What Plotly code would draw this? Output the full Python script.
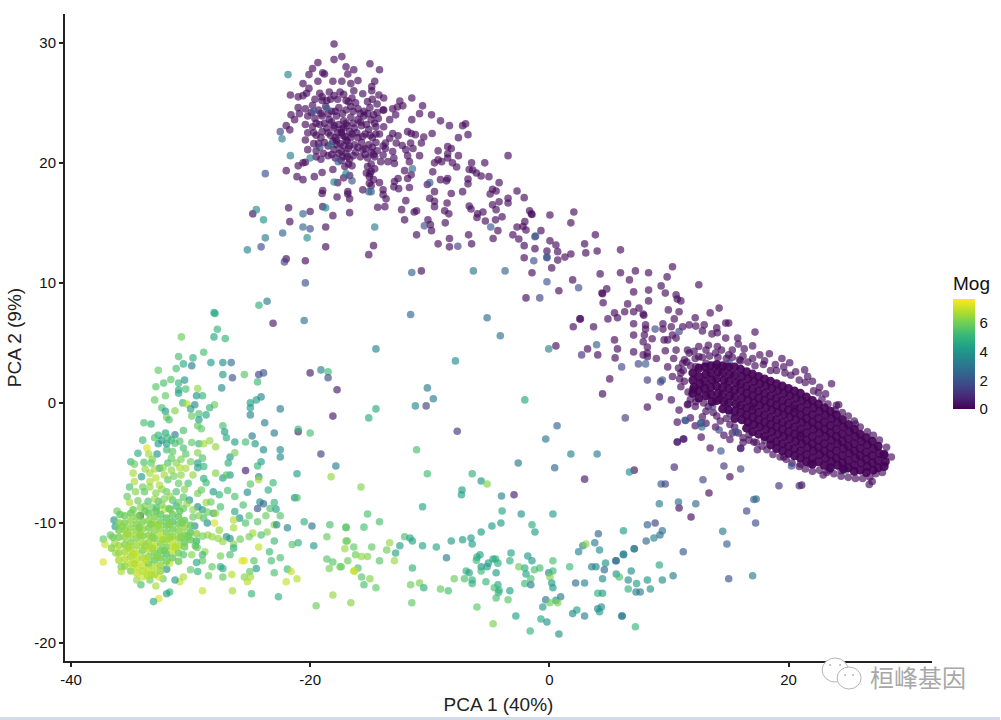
import plotly.graph_objects as go

# --- chart values: (PCA 1, PCA 2) and Mog ---
upper_lobe = [
(-18,29.9),(-18,28.6),(-17.35,28.85),(-19.35,28.35),(-19.8,27.85),(-20.1,27.35),(-18.95,27.5),(-18.8,27.4),(-17,28),(-16.35,27.75),(-16.85,27.4),(-15,28.25),(-14.2,27.75),
(-20.6,26.6),(-19.35,26.8),(-20.1,26.2),(-16,26.85),(-14.6,26.8),(-18.1,26.8),(-17.35,26.8),(-16.6,26.6),(-14.85,26.35),(-14.85,26),(-16.35,26),(-15.6,25.75),(-14.25,25.65),(-13.85,25.4),(-21.65,25.65),(-21,25.5),(-20.3,25.8),(-19.2,25.8),
(-20.6,25.6),(-19,25.5),(-18.4,25.9),(-18,25.6),(-17.5,25.9),(-17.7,25.3),(-18.6,25.2),(-17,25.2),(-16.5,25.4),(-16.2,25),(-15.2,25.1),(-14.8,25.3),(-14.4,24.9),
(-21,24.6),(-20.4,24.5),(-19.8,24.8),(-19.3,24.4),(-18.7,24.7),(-18.2,24.3),(-17.6,24.6),(-17,24.4),(-16.6,24.7),(-16,24.5),(-15.5,24.3),(-15,24.6),(-14.4,24.2),(-13.9,24.4),
(-21.6,24),(-20.9,24.1),(-20.2,23.9),(-19.6,23.7),(-19,23.9),(-18.4,23.6),(-17.8,23.9),(-17.2,23.5),(-16.6,23.8),(-16,23.6),(-15.5,23.9),(-14.9,23.6),(-14.3,23.7),
(-21.3,23.6),(-20.4,23.2),(-19.8,23),(-19.2,23.2),(-18.6,22.9),(-18,23.1),(-17.4,22.8),(-16.9,23.1),(-16.3,22.9),(-15.7,23.1),(-15.1,22.8),(-14.5,23),
(-20.2,22.5),(-19.5,22.3),(-19,22.6),(-18.3,22.3),(-17.7,22.5),(-17.1,22.2),(-16.5,22.4),(-16,22.1),(-15.4,22.4),(-14.8,22.1),(-14.2,22.4),
(-20.4,21.9),(-19.7,21.6),(-18.8,21.7),(-18.1,21.8),(-17.5,21.6),(-16.9,21.8),(-16.3,21.5),(-15.7,21.7),(-15.1,21.5),(-14.5,21.7),(-13.9,21.4),
(-20.2,21.1),(-19.5,21),(-18,21.1),(-17.4,21),(-16.8,21.2),(-16.2,20.9),(-15.6,21.1),(-14.9,20.9),(-14.4,21),
(-19.5,20.5),(-19.1,20.3),(-18.5,20.6),(-17.9,20.4),(-17.3,20.5),(-16.7,20.3),(-15.8,20.5),(-15.2,20.4),(-14.6,20.5),
(-13.35,23.6),(-13.1,24.5),(-12.7,24.65),(-12.85,24),(-13.85,24.4),(-13.85,23),(-11.5,25.4),(-12.5,25.15),(-10.6,24.75),(-12.25,24.75),(-10.85,24.1),(-9.85,24),(-11.5,23.6),(-9.1,23.5),(-8.35,23.1),(-7.25,23.1),(-7,23.25),(-6.8,22.35),(-7.6,22.1),(-3.45,20.6),(-5.4,20),(-6.5,20),
(-11.85,22.6),(-11.55,22.45),(-11.2,22.35),(-10.5,22.15),(-9.8,22.45),(-13.1,22.45),(-12.65,22.25),(-13.35,22.05),(-12.8,21.65),(-11.6,21.65),(-12.3,21.45),(-10.7,21.65),(-11.4,21.2),(-12,21.1),(-11.85,20.6),(-10.85,20.6),(-9.3,21),(-8.5,21.35),(-8.2,21.2),(-7.6,20.6),(-8.5,20.75),(-8.5,20.4),(-9.3,20.25),(-9,20.1),(-9.6,20),(-8.1,20),(-7.75,19.65),
(-13.1,20.95),(-13,20.4),(-13.7,21.65),(-13.7,21.2),(-13.9,20.65),(-12.95,19.95),(-14.1,20.1),(-13.5,20.1),(-11.7,20.1),(-12.1,19.35),(-11.55,19),(-11.85,18.7),(-12.65,18.7),(-12.95,18.45),(-13,18),(-12.6,17.85),(-11.7,17.95),
(-9.75,19.25),(-10.2,18.2),(-9.1,18.6),(-8.5,18.7),(-8.6,18.5),(-6.8,18.65),(-6.8,18.25),(-6.7,19.45),(-6.4,19.4),(-6.1,19.15),(-5.7,18.9),(-5.05,18.85),(-4.2,18.35),
(-4.75,17.8),(-4.45,17.65),(-4.95,17.4),(-8.2,17.45),(-7.25,17.6),(-9.6,17.6),(-10,17.05),(-9.6,16.8),(-9.6,16.35),(-8.55,16.65),(-8.75,16),(-8.4,15.75),(-8.7,15),
(-6.7,16.4),(-6.55,16.15),(-6,15.75),(-6.05,15.45),(-5.55,15.9),(-5.35,15.15),(-4.75,16.5),(-4.45,16.1),(-4.2,16.75),(-3.45,17.05),(-3.45,16.65),(-2.7,17.65),(-2.1,17.1),(-1.65,16),(-1.45,15.7),
(-4.5,15.25),(-3.95,15.5),(-4.3,14.35),(-4.7,13.7),(-3.05,14),(-2.55,13.65),(-2.7,14.65),(-2.2,14.7),(-1.95,14.4),(-2.1,13.1),(-1.2,12.85),(-2.1,12.1),
(-12,16.85),(-14.35,16.3),(-13.75,16.35),(-13.65,17),(-13.9,17.35),(-13.9,17.75),(-14.2,18.35),(-15.6,17.75),(-15.05,18.3),(-15.05,18.85),(-15.3,19.15),(-14.9,19.3),(-15.2,19.7),(-14.9,19.9),
(-12.35,16.1),(-11.3,15.9),(-11.1,16),(-12.1,15.25),(-10.15,15.25),(-9.95,14.85),(-9.85,14.35),(-11.1,14),(-9.3,13.25),(-8.35,13.7),(-8.35,13),(-6.5,13.25),(-6.75,14),
(-16.5,19.75),(-17.1,19.7),(-17.2,18.75),(-16.7,18.95),(-16.85,17.6),(-16.85,17.4),(-16.7,17),(-17.75,17.15),(-18.95,17.7),(-19,17.45),(-19.65,18.85),(-19,19.2),(-18.1,19.45),(-20.6,18.6),(-21.1,18.85),(-22,19.35),(-21,19.75),(-20.6,20),(-20.4,20.05),(-17.7,18.35),
(-22,23.1),(-21.7,22.75),(-21.8,16.25),(-20,15.95),(-18.95,16.35),(-18.1,15.6),(-16.7,15.85),(-24.8,15.75),(-21.7,15.1),(-18.7,14.65),(-18.7,13),(-14.7,13.1),(-15.1,12.35),(-22,12),(-20.4,11.85),(-10.7,11),
(2.6,7),(2,6.35),(3.7,6.35),(0.55,4.75),(3.2,4.5),(4.05,4),
(-2.05,15.1),(-1.5,15.75),(0.05,15.65),(2.05,15.9),(1.8,15),(-0.7,14.35),
(0.05,13.5),(0.55,13.15),(0.7,12.6),(-0.2,12.65),(0.7,11.9),(1.3,12.15),(1.8,12.4),(0.2,11.25),(3.85,14),(2.95,13.25),(3.05,12.5),(4,12.65),(5.95,12.75),(4.25,10.75),(5.95,10.85),(7.2,11),(8.3,10.85),(10.3,11.35),(9.85,10.5),(6.7,10.25),
(-1.45,10.85),(1.95,10.25),(0.8,9.35),(-1.95,8.75),
(12.5,9.85),(9.35,9.75),(9.7,9.15),(8.3,9.4),(7.05,9.25),(4.8,9.5),(4.4,9.15),(4.45,9.1),(4.5,8.35),(10.6,9),(10.7,8.65),(11,8.5),(8.3,8.5),(6.55,8.25),(9.95,7.75),(10.85,7.6),(14.2,7.9),(13.45,7.5),(12.2,7.1),(10.45,7),
(5.45,7.5),(5.7,7.1),(4.9,7),(6.3,7.6),(7.05,7.6),(7.5,7.9),(7.85,7.4),(7.9,7.3),(2.55,7),(7.05,6.6),(8.05,6.5),(8.05,6.15),(9.5,6.6),(9.5,6.15),(10.2,6.35),
(7.05,5.65),(7.95,5.65),(8.6,5.35),(7.85,5.1),(8.2,4.65),(9.6,5.25),(9.9,5.25),(5.45,5.25),(5.7,4.5),(5.5,3.75),(7.05,4.25),(7.85,4),(8.2,4.15),(8.2,3.85),(8.95,3.7),(9.7,4.35),(10.6,4.4),(5.05,2),(4.45,0.75),(9.2,0.5),(10.2,0.25),
(11.15,6.35),(11.7,6.5),(12.25,6.4),(12.95,6.5),(12.8,6),(13.6,5.75),(14,6.25),(14.05,5.85),(14.75,6.65),(15,6.65),(14.75,5.4),(15.75,5.4),(10.3,5.65),(10.6,5.4),(11.55,4.4),(11.7,4.15),(12.5,4.7),(13.1,4.4),(14.05,4.7),(13.9,4.15),(15.3,4.4),(12.5,3.85),(11.15,3.3),(9.9,3),(10.3,2.2),(11,2.5),(11,1.35),(12,1.1),(12.25,3),(13.1,3.3),(13.9,3),(15.9,3.6),
(17.2,5.9),(17,4.75),(15.8,4.9),(16.3,4.5),(17.6,4),(18.4,4.1),(19.45,3.7),(20.1,3.35),(21.35,2.75),(22,1.8),(23.6,1.6),(22.5,0.85),(23.1,0.75),(24.2,-0.15),(24,-0.2),(25.6,-1.75),(28.6,-4.5),(28,-4.35),(27.85,-5.8),(27,-6.55),(26.75,-6.8),(22.9,-6),(23.4,-5.6),(24.4,-5.65),(21.1,-6.85),(21.85,-5.1),(21,-5.1),(19.6,-4.5),(18,-3.1),(17.1,-3.25),(16,-3.8),(15.1,-3.05),(16.7,-2.65),
(13.45,-3.75),(12.7,-2.85),(11.2,-3),(10.7,-3.25),(10.7,-1.6),(11.8,-1.25),(12.8,-1.15),(13.1,-0.7),(11.6,-0.1),(12.25,0.1),(10.85,-0.6),(11.55,-0.15),(8.2,-0.35),(7.1,-5.6),(15.1,-6.15),(13.35,-7.5),(10.85,-8.75),(11.85,-9.5),
]

# second pass over the dark heart of the upper lobe
lobe_heart = [
(-19.6,25.3),(-19,25.2),(-18.3,25.3),(-17.2,25.7),(-16.8,25.1),(-19.9,24.2),(-19.1,24.1),(-18.5,24.1),(-17.9,24.3),(-17.3,24.1),(-16.4,24.3),(-15.8,24.1),(-15.2,24.1),(-14.7,24),
(-19.5,23.3),(-18.8,23.3),(-18.2,23.4),(-17.6,23.2),(-17,23.3),(-16.4,23.3),(-15.8,23.4),(-15.3,23.2),(-14.6,23.3),(-19.7,22.5),(-19.1,22.1),(-18.5,22.5),(-17.9,22.1),(-17.3,22.3),(-16.7,22.6),(-16.1,22.5),(-15.6,22.2),(-15,22.3),(-14.5,22.4),
(-19.3,21.6),(-18.5,21.4),(-17.8,21.5),(-17.2,21.4),(-16.7,21.4),(-16,21.3),(-15.4,21.2),(-14.8,21.3),(-18.9,20.8),(-18.2,20.7),(-17.6,20.8),(-17,20.8),(-16.4,20.6),(-15.4,20.7),(-14.7,20.7),
(-18,22.9),(-17.4,22.5),(-17,21.9),(-17.2,22.9),(-16.6,22.1),(-17.8,21.9),(-16.9,20.5),(-17.4,20.2),(-16.8,19.9),(-14.6,19.5),(-15,19.1),(-14.7,18.6),(-14.9,18.1),
]

# dense dark ridge on the right
ridge = [
(12,2.5),(12,1.9),(12.1,1.3),(12,0.8),(12.5,2.9),(12.5,2.2),(12.6,1.6),(12.5,1),(12.5,0.4),
(13,3),(13.1,2.4),(13,1.8),(13,1.2),(13.1,0.6),(13.5,3.1),(13.5,2.5),(13.6,1.9),(13.5,1.3),(13.5,0.7),(13.6,0.1),
(14,3.2),(14.1,2.6),(14,2),(14,1.4),(14.1,0.8),(14,0.2),(14.5,3.1),(14.5,2.5),(14.6,1.9),(14.5,1.3),(14.5,0.7),(14.6,0.1),(14.5,-0.5),
(15,3),(15.1,2.4),(15,1.8),(15,1.2),(15.1,0.6),(15,0),(15,-0.6),(15.5,3),(15.5,2.3),(15.6,1.7),(15.5,1.1),(15.5,0.5),(15.6,-0.1),(15.5,-0.7),(15.5,-1.3),
(16,2.8),(16.1,2.2),(16,1.6),(16,1),(16.1,0.4),(16,-0.2),(16,-0.8),(16.1,-1.4),(16.5,2.6),(16.6,2),(16.5,1.4),(16.5,0.8),(16.6,0.2),(16.5,-0.4),(16.5,-1),(16.6,-1.6),(16.5,-2.1),
(17,2.4),(17.1,1.8),(17,1.2),(17,0.6),(17.1,0),(17,-0.6),(17,-1.2),(17.1,-1.8),(17,-2.4),(17.5,2.2),(17.6,1.6),(17.5,1),(17.5,0.4),(17.6,-0.2),(17.5,-0.8),(17.5,-1.4),(17.6,-2),(17.5,-2.6),
(18,2),(18.1,1.4),(18,0.8),(18,0.2),(18.1,-0.4),(18,-1),(18,-1.6),(18.1,-2.2),(18,-2.8),(18.5,1.8),(18.6,1.2),(18.5,0.6),(18.5,0),(18.6,-0.6),(18.5,-1.2),(18.5,-1.8),(18.6,-2.4),(18.5,-3),(18.5,-3.5),
(19,1.6),(19.1,1),(19,0.4),(19,-0.2),(19.1,-0.8),(19,-1.4),(19,-2),(19.1,-2.6),(19,-3.2),(19,-3.8),(19.5,1.4),(19.6,0.8),(19.5,0.2),(19.5,-0.4),(19.6,-1),(19.5,-1.6),(19.5,-2.2),(19.6,-2.8),(19.5,-3.4),(19.5,-4),
(20,1.2),(20.1,0.6),(20,0),(20,-0.6),(20.1,-1.2),(20,-1.8),(20,-2.4),(20.1,-3),(20,-3.6),(20,-4.2),(20.5,1),(20.6,0.4),(20.5,-0.2),(20.5,-0.8),(20.6,-1.4),(20.5,-2),(20.5,-2.6),(20.6,-3.2),(20.5,-3.8),(20.5,-4.4),
(21,0.8),(21.1,0.2),(21,-0.4),(21,-1),(21.1,-1.6),(21,-2.2),(21,-2.8),(21.1,-3.4),(21,-4),(21,-4.6),(21.5,0.5),(21.6,-0.1),(21.5,-0.7),(21.5,-1.3),(21.6,-1.9),(21.5,-2.5),(21.5,-3.1),(21.6,-3.7),(21.5,-4.3),(21.5,-4.9),
(22,0.2),(22.1,-0.4),(22,-1),(22,-1.6),(22.1,-2.2),(22,-2.8),(22,-3.4),(22.1,-4),(22,-4.6),(22,-5.1),(22.5,-0.1),(22.6,-0.7),(22.5,-1.3),(22.5,-1.9),(22.6,-2.5),(22.5,-3.1),(22.5,-3.7),(22.6,-4.3),(22.5,-4.9),
(23,-0.4),(23.1,-1),(23,-1.6),(23,-2.2),(23.1,-2.8),(23,-3.4),(23,-4),(23.1,-4.6),(23,-5.2),(23.5,-0.7),(23.6,-1.3),(23.5,-1.9),(23.5,-2.5),(23.6,-3.1),(23.5,-3.7),(23.5,-4.3),(23.6,-4.9),(23.5,-5.4),
(24,-1),(24.1,-1.6),(24,-2.2),(24,-2.8),(24.1,-3.4),(24,-4),(24,-4.6),(24.1,-5.2),(24.5,-1.4),(24.6,-2),(24.5,-2.6),(24.5,-3.2),(24.6,-3.8),(24.5,-4.4),(24.5,-5),(24.6,-5.5),
(25,-1.8),(25.1,-2.4),(25,-3),(25,-3.6),(25.1,-4.2),(25,-4.8),(25,-5.4),(25.5,-2.2),(25.6,-2.8),(25.5,-3.4),(25.5,-4),(25.6,-4.6),(25.5,-5.2),(25.5,-5.7),
(26,-2.6),(26.1,-3.2),(26,-3.8),(26,-4.4),(26.1,-5),(26,-5.6),(26.5,-2.9),(26.6,-3.5),(26.5,-4.1),(26.5,-4.7),(26.6,-5.3),(26.5,-5.8),
(27,-3.2),(27.1,-3.8),(27,-4.4),(27,-5),(27.1,-5.6),(27.5,-3.6),(27.6,-4.2),(27.5,-4.8),(27.5,-5.4),(28,-4.3),(28.1,-4.9),(28,-5.3),
]

# looser points that blur the edge of the ridge
ridge_fringe = [
(11.3,3.6),(11.8,3.1),(12.2,3.7),(12.8,3.8),(13.4,3.9),(14.1,3.8),(14.8,3.7),(15.3,3.8),(16,3.5),(16.6,3.4),(17.2,3.1),(17.9,3.2),(18.5,2.7),(19,2.7),(19.7,2.5),(20.2,2.3),(20.9,1.9),(21.4,1.7),(22.1,1),(22.8,0.3),(23.3,-0.1),(23.9,-0.6),(24.5,-0.8),(25,-1.1),(25.5,-1.5),(26,-2),(26.6,-2.4),(27.1,-2.7),(27.6,-3.1),(28.2,-3.7),
(11.2,2.7),(11.3,1.8),(11.6,0.9),(11.8,0.3),(12.2,-0.3),(12.9,0),(13.3,-0.3),(13.7,-0.8),(14,-1.1),(14.3,-1.5),(14.8,-1.3),(15.1,-1.8),(15.5,-2),(15.8,-2.5),(16.2,-2.9),(16.7,-3.1),(17.3,-3.3),(17.8,-3.6),(18.2,-3.9),(18.7,-4.3),(19.3,-4.5),(19.8,-4.7),(20.3,-5),(20.9,-5.3),(21.4,-5.5),(22,-5.7),(22.6,-5.6),(23.2,-5.8),(23.8,-5.9),(24.4,-6.1),(25,-6.2),(25.6,-6.3),(26.2,-6.3),(26.8,-6.2),(27.3,-5.9),
(10.4,3.7),(10.8,2.9),(11.5,3.4),(10.9,2),(12.1,4.3),(13.3,4.8),(14.4,4.4),(15,4),(16.2,3.9),(17,3.7),(18,3.5),(18.9,3.2),(19.6,3),(20.6,2.6),(21.6,2.2),(22.6,1.3),(13.9,-2),(14.6,-2.7),(15.3,-2.5),(13.1,-1.7),(12.2,-1.9),(16.2,-3.3),(17.4,-3.9),
]

mixed = [
(-21.85,27.35,3.4),(-22.5,22.6,1.5),(-22.35,22,3.2),(-21.65,20.6,3.2),(-20,20.4,3.2),(-17.65,20.1,2),(-23.75,19.1,1.8),(-11.45,19.5,2.7),(-10,18.35,2),(-14.9,17.6,2),(-15.1,17.6,2.5),(-17,19.1,3.2),(-16.5,18.5,2),(-18,18.4,3.2),
(-20.6,15.75,2.4),(-18.7,16.25,3.7),(-24.5,16.1,3.7),(-23.9,15.25,4),(-20.6,14.65,2.6),(-20,14.5,1.8),(-14.6,14.65,3.2),(-22.3,14.15,2.4),(-23.75,13.75,3.2),(-20.25,13.75,3.8),(-25.25,12.75,3.4),(-24.1,13,1.8),(-22.15,11.75,1.5),
(-10.45,14.75,1.8),(-7.65,13.05,1.5),(-4.9,14.65,2),(-1.2,13.85,1.9),(-1.3,11.85,1.9),(-19.7,24.3,2),(-18.6,24.5,2.2),(-18.3,21.5,2.8),(-19.2,21.3,1.4),
(-20.4,10,1.9),(-11.5,10.86,2.4),(-6.35,11,3),(-3.7,11,2.5),(-0.2,12.1,1.9),(-0.2,10.1,2),(2.45,9.6,1.9),(-0.8,8.75,1.5),
(-20.5,6.86,2.9),(-11.6,7.36,2.5),(-5.2,7.1,2.7),(-4.1,5.6,2.9),(-14.5,4.5,3.4),(-7.85,3.5,3.7),(-0.05,4.5,3.5),(2.7,4,1),(3.95,4.85,2.3),(-20,2.5,0.6),(-19.1,2.75,3.4),(-18.5,2.6,5.2),(-18.5,2.1,1.8),(-17.75,1.1,0.5),(-18.1,-1.1,0.5),
(-10.2,1.25,3.2),(-9.7,0.35,3.2),(-11.2,-0.25,3.7),(-10.3,-0.25,1.5),(-14.5,-0.5,4.7),(-15.1,-1.25,4.7),(-2.05,0.25,4.6),(-20,-2.5,5.4),(-7.7,-2.36,1.2),(0.65,-1.9,2.5),(-0.3,-3,3),(-11.1,-3.9,5.4),(-19.1,-4.25,1.4),(-17.85,-5.25,3.2),(-18.25,-6.15,6.4),(1.8,-4.25,3.4),(4,-4.25,3.2),(-2.6,-5,3),(0.45,-5.4,2.5),(2.95,-6.35,0.5),(-10.2,-5.9,5.3),(-6.45,-5.9,4.9),(-5.7,-6.5,4),(-5.2,-6.75,6.2),(-15.75,-7,6.2),(-7.3,-7.25,4.2),
(-10.6,-8.65,4.5),(-15.2,-9.25,5.4),(-14.2,-9.9,5.4),(-17,-10.35,5.4),(-15.5,-10.35,5.4),(-7.35,-7.65,4.4),(-4,-7.75,3.5),(-2.95,-7.65,0.6),(-3.95,-9,4.5),(-2.35,-9.25,4),(0.3,-9.25,4.2),(-4.05,-10,4.2),(-4.8,-10.25,4.1),(-5.7,-10.75,4.2),(-1.45,-10.15,4.8),(-1.2,-10.75,4.3),(4.1,-10.9,2.5),(6.2,-10.65,4.2),
(-12.1,-11.15,5.4),(-11.65,-11.25,4.6),(-11.45,-11.5,4.5),(-7.25,-11.4,4.2),(-6.55,-11.25,4.2),(-6.45,-11.75,4.4),(-8.2,-11.5,4.2),(-10.6,-11.9,4.5),(-9.45,-12,4.5),(-12.5,-11.9,4.4),(-13.35,-11.65,6.4),(-17,-11.5,5.9),(-17.1,-12.15,6.5),(-16.35,-12,5.7),(-14.85,-12,5.7),(-13.6,-12.25,5.9),(-12.85,-12.5,4.5),(-16.2,-12.65,5.9),(-15.7,-12.8,6.4),(-15.2,-12.8,6.2),(-16.85,-13.15,5.9),(-14.2,-13.15,5.6),(-12.95,-13.15,6.5),(-8.6,-12.9,3.2),(-11.45,-13.75,4.9),(-17.4,-13.65,5.9),(-16,-13.75,5.4),(-16.35,-14,6.8),(-15.7,-14.5,5.6),(-15,-14.65,6.2),(-15.5,-15.15,5.4),(-14.5,-15.4,5.7),(-11.6,-15.15,5.9),(-10.85,-15,6.1),(-10.5,-15.4,4.8),(-9.1,-15.5,5.8),(-8.45,-15.65,5.3),(-7.95,-14.65,5.9),(-16.6,-16.65,6.2),(-11.5,-16.65,5.7),(-6.05,-17,5.7),(-4.7,-18.4,6.1),
(-7.1,-14.65,5.4),(-6.95,-14,4.9),(-6.7,-14.15,4.4),(-6.45,-14.75,4.9),(-6.45,-15.05,4.9),(-6.1,-13.1,5.2),(-6.05,-12.85,4.9),(-5.8,-12.65,4.4),(-5.7,-13.65,4),(-5.7,-14,5.2),(-5.1,-13.35,4.4),(-5.2,-13.65,4.2),(-4.7,-13,4.4),(-4.5,-13,4.8),(-4.3,-13.35,4.8),(-4.45,-14.15,4.3),(-5.3,-14.9,5.1),(-4.3,-15.15,4.6),(-4.6,-15.4,5.4),(-4.2,-15.6,5),(-4.25,-15.8,5),(-4.45,-16.25,5.4),(-3.3,-15.65,4.4),(-3.45,-16.4,5.6),(-2.8,-17.75,4.4),(-3.2,-12.5,4.4),(-3.3,-13.15,4.9),(-2.55,-13.65,5.9),(-2.05,-13.75,4.8),(-1.95,-14.25,4.5),(-1.8,-12.75,4.1),(-1.45,-13.15,4.2),(-1.25,-13.9,5.4),(-0.8,-13.75,5.3),(-1.55,-14.65,5.4),(-2.05,-15.05,5.2),(-1.55,-15.15,3.2),(0.3,-13.15,5.4),(-0.05,-14.15,3.5),(0.3,-14,5.2),(0.05,-14.5,6.2),(0.2,-15,4.2),(0.3,-15.4,4.1),(1.7,-13.65,5.2),(3.55,-13.65,3.3),(3.9,-13.65,3.5),(4.6,-13.9,2.5),(4.7,-13.35,4),(5.6,-13.15,2.6),(6.2,-12.65,3.3),(7.1,-12.15,3.2),(3.8,-11.65,3.2),(2.8,-11.9,3.4),(3.05,-11.75,6.2),(2.45,-12.4,3.5),(4.2,-12.25,3.7),(4.45,-14.65,3.7),(5.6,-14.25,4),(5.85,-14.5,5.4),(6.85,-14,3.7),(6.6,-14.75,3.8),(7.3,-15.05,4.4),(6.6,-15.5,4.9),(7.25,-15.75,3.2),(2.2,-15,2.7),(2.95,-15,3.4),(4.05,-15.85,4.9),(4.45,-15.85,4.2),(-0.3,-16.4,2.9),(0.95,-16.15,3.2),(0.55,-16.45,4),(0.05,-16.65,5.9),(0.7,-16.65,6.1),(-0.55,-17,4.2),(-0.7,-18,4.6),(-0.2,-18.25,4),(-1.6,-19,5),(0.8,-19.25,3.8),(2.3,-17.25,4.4),(1.95,-17.55,3.7),(2.95,-17.75,3.3),(4.35,-17,3.8),(4.05,-17.15,3.5),(4.2,-17.4,4.1),(6.1,-17.75,3.2),(7.2,-18.65,5.1),
(6.35,-1.25,1.4),(11.35,-1.45,1.8),(12.75,-2,2.5),(12.7,-1.65,1.5),(10.7,-3.25,0.8),(11.25,-3,0.6),(14.35,-4,2),(16,-3.75,0.8),(14.6,-5.25,1.2),(16,-5.5,1.6),(10.45,-5.35,0.8),(6.7,-5.75,3.7),(9.35,-6.75,2.3),(9.7,-6.75,1.5),(12.85,-6.4,1.6),(10.8,-8.25,2.7),(9.2,-8.4,3.2),(12.25,-8.4,2.6),(17.1,-8.05,2.4),(17.3,-8,2.6),(16.5,-9,1.6),(17.25,-10,1.8),(19.2,-6.9,1),(20.25,-5.25,1.7),(20.9,-6.9,0.8),(24.8,-5.6,3.2),
(8.2,-10.15,2.3),(8.85,-10,1.5),(9.45,-10.65,3),(9.25,-11,2.6),(8.75,-11.25,3.4),(8.1,-11.5,2.5),(7.1,-12.15,3.2),(6.2,-12.6,3.3),(5.55,-13.15,2.7),(11.2,-12.4,2.1),(14.5,-10.7,3.2),(14.85,-11.75,2.4),(15,-14.65,1.9),(17,-14.4,3.2),(9.2,-13.5,4.6),(10.35,-14.4,3.2),(9.45,-14.75,3.7),(8.2,-14.75,4),(8.45,-15.5,4),(7.6,-15.75,3.2),(6.05,-17.75,3.2),
(-1.15,13.9,2),(-0.2,12.15,1.9),(8.85,6.15,1.6),(10.85,5.95,1.4),(15.05,3.3,1.5),(6.05,3,1.7),(7.45,3.25,1.6),(8.05,3.25,2.3),(8.2,1.9,1.2),(9.45,1.9,2),(9.3,1.75,1.5),
(15.6,-2.4,2),(14.2,-2.25,1.5),(11.4,-1.47,2),(12.65,-1.7,2.5),(13.65,-0.3,1.5),(14.2,0.3,1.2),(15.1,-0.9,1.6),(17,-0.3,1.2),(20.5,-0.5,1.4),(21,-2.6,1),(14.7,3,1.2),
# left green cluster, upper part
(-28.04,7.52,4.6),(-27.95,7.45,4.6),(-24.28,8.14,4.9),(-23.6,8.47,3.2),(-23.1,6.64,0.5),(-27.76,6.14,5),(-28.04,5.5,4.6),(-27.1,5.36,5),(-30.77,5.5,5.9),(-28.9,4.22,5.4),(-31,3.86,5.4),(-29.8,3.75,4.8),(-30.6,3.25,4.7),(-31.2,2.86,5.4),(-32.7,2.72,5.7),(-29.9,3.1,3.2),(-28.3,3.36,4.2),(-27.3,3.36,3.7),(-26.6,3.36,2.9),(-27.3,2.36,4.2),(-26.5,2.1,2),(-25.5,2.36,5.6),(-24.3,2.36,1.5),(-23.9,2.5,2),(-24.4,1.75,5.2),(-21,-2.4,0.6),(-21,-2.2,5.2),(-21.1,-5.9,4.2),(-25.4,-5.64,0.6),
(-33,0.25,5.8),(-32.1,0.6,5.8),(-32.9,1.35,5.6),(-32.25,1.65,5.4),(-31.65,1.95,5.6),(-31,1.65,5),(-30.5,1.9,4),(-31,1.08,4.6),(-31,0.8,4.6),(-30.4,1.15,5.4),(-29.4,1.2,6.4),(-29.5,0.6,4),(-29,0.6,5),(-27.4,1.25,3.7),(-32.4,-0.4,5.4),(-32.1,-0.7,4.2),(-31.3,-0.65,6.2),(-30.65,0,5),(-30.3,-0.1,6.8),(-29.65,-0.15,3.7),(-30,-0.5,4.4),(-28,-0.15,5.9),(-28.4,-0.4,5),(-28.7,-1,4.6),(-29.3,-0.9,5.4),(-29.9,-1.1,5.8),(-29.3,-1.4,4.2),(-32,-1.2,6),(-31.8,-1.4,5.4),(-33.9,-1.65,5.4),(-33.3,-1.75,4.9),(-29.4,-1.9,5.7),(-29.1,-2.15,5.7),(-30.6,-2.3,5.4),(-27.3,-1.9,5.4),(-27.15,-2.4,4.2),(-27,-2.9,4.8),(-25,0,4.4),(-25,-0.4,4.2),(-24.5,0.25,4.4),(-24.1,0.5,3.5),(-25,-1,3.4),(-22.5,-0.5,3.2),(-23.8,-1.65,3.2),(-23,-2.5,3.2),
(-34,-3.1,5.2),(-32.7,-2.7,5.1),(-32.1,-2.5,4.6),(-31.3,-2.65,3.2),(-32.7,-3.4,4.2),(-32,-3.4,4.2),(-32.4,-3.1,4),(-31.6,-3.1,5),(-31.3,-3.35,5.4),(-33.65,-3.75,7.2),(-33.5,-4.25,6.6),(-34.4,-4.2,4.8),(-32.8,-4.25,4),(-30.6,-3.75,5.4),(-30.4,-4.25,5.6),(-32,-3.9,5.2),(-31.5,-4.05,5.7),(-29.4,-4.15,6.2),(-29.3,-3.4,4.9),(-28.9,-3.4,6.6),(-28.4,-3.15,6.4),(-27.9,-3.65,6.4),(-26.3,-3.25,4.2),(-25.4,-3.25,5.3),(-24.85,-2.75,3.2),(-24.6,-3.4,4.2),(-23.9,-3.9,3.7),(-22.5,-3.9,3.7),(-22.5,-4.5,3.7),
(-35,-4.9,5.1),(-33.9,-4.95,5.4),(-33.3,-5,5.7),(-32.6,-5.45,4.2),(-31.9,-5,5.4),(-31.2,-5,6.2),(-30.4,-5.45,6.6),(-29.8,-6,6.4),(-29.4,-5,4.2),(-29.4,-5.4,4.4),(-28.9,-5.3,5),(-26.7,-4.5,4.2),(-26.85,-5,4.8),(-26.3,-4.15,6),(-24.4,-5.25,5.1),(-24.1,-4.9,4.4),(-24.3,-6.15,3.7),(-24.3,-6.4,6.6),(-27.9,-5.85,6.2),(-27.3,-6.25,4.2),(-26.7,-6,4.1),(-27,-6,5.6),(-28.9,-6.3,4.8),(-28.7,-6.65,5.2),(-34.8,-5.85,6.6),(-34.7,-6.55,6.7),(-34.1,-6.15,4.2),(-33.4,-5.85,6.6),(-32.9,-6.25,6.8),(-33.4,-6.55,6.7),(-32.6,-6.85,6.7),(-31.9,-6.4,5.6),(-31,-6.7,5.8),(-30.2,-6.7,5.4),(-35.1,-7,5.4),(-33.85,-7.4,5.6),(-32.9,-7.5,6.2),(-32,-7.4,5.8),(-31.2,-7.4,5.4),(-29.4,-7.55,6),(-29.1,-7.25,5.8),(-28.1,-7.4,4.2),(-27.6,-7.65,5),(-26.9,-7.3,5.4),(-26.3,-7.8,5.4),(-25.25,-7.45,3.7),(-25,-6.75,5.6),(-23.5,-7.25,4.8),(-23.1,-6.65,5.2),(-35.3,-7.8,5.7),(-34.4,-8.15,5.9),(-35.1,-8.3,6.7),(-33.55,-8.2,5.4),(-32.7,-8.2,5.2),(-31.5,-8.1,5.4),(-30.6,-7.85,5.6),(-30.1,-8.1,4),(-29.4,-8.65,3.7),(-28.7,-8.3,6.4),(-28.3,-8.25,5.9),(-27.5,-8.65,5.4),(-25.6,-8.5,5.4),(-24.2,-8.25,3.7),(-23.9,-8.4,2.6),(-24.4,-8.8,2),(-23,-8.3,5.1),(-23.35,-8.8,5.4),(-22.85,-8.85,4.4),(-21.3,-7.9,3.7),(-21.1,-7.9,5.4),
(-32.85,-8.75,5.2),(-31.2,-8.6,4.9),(-30.6,-8.8,5.7),(-32.2,-8.85,6.8),(-29,-8.9,4.2),(-26.3,-9.05,4.6),(-25.9,-9.6,4),(-28.1,-9.2,4.4),(-25.1,-9.4,5.7),(-23.7,-9.4,5.9),(-22.5,-9.4,5.6),(-23,-10.15,6.2),(-22.8,-10.15,3.7),(-24.4,-9.9,5.6),(-25.4,-10,5.5),(-26.4,-9.75,6.7),(-26.4,-10.4,6.6),(-28,-10,7.2),(-28.6,-10,3.7),(-29.65,-10.25,3.7),
(-20.5,-9.9,4.9),(-19.85,-10.25,2.9),(-21.9,-10.4,3.4),(-18.35,-10.15,5.4),(-17,-10.4,5.7),(-18.6,-11.15,5.9),(-16.9,-11.5,5.9),(-23.6,-10.75,6.2),(-24.1,-11,5.4),(-24.8,-10.85,6.6),(-25.1,-11.15,6),(-25.85,-11.35,5.9),(-26.7,-11.3,3.7),(-27,-11.15,4),(-26.4,-11.75,6.2),(-28.55,-11,6.4),(-28.2,-11.15,6.4),(-27.6,-10.6,6.4),(-27.7,-11.3,6.4),(-27.3,-11.55,6.4),(-29,-11.1,6),
(-23,-11.5,5.2),(-21.5,-11.8,5.6),(-21,-11.65,4.9),(-23.4,-12.4,5.2),(-19.7,-11.9,4.2),(-24.3,-12,6.9),(-26.4,-12.1,4.8),(-22.5,-12.9,5.4),(-23.25,-13.15,5.4),(-24.7,-13.15,5.6),(-25.7,-13.15,7.3),(-25.5,-13.15,7.3),(-26.7,-12.65,5.4),(-27.5,-12.75,6),(-28.8,-12.4,6.4),(-29,-12.65,5.2),(-29,-13.15,5.7),(-29.9,-12.65,6.2),(-30.6,-12.65,5.4),(-29.45,-12.05,5.7),
(-18.6,-13,5.6),(-18.1,-13.25,5.6),(-17.5,-13.65,5.9),(-18.4,-13.8,6),(-16.3,-14,7),(-28.2,-13.65,5.7),(-27.5,-13.65,4.7),(-27.3,-13.8,4.8),(-29.4,-14.05,4.9),(-30,-13.9,5.7),(-29.5,-13.3,4.6),(-24.5,-13.8,4.2),(-25.05,-14.05,5.7),(-26.55,-14.3,6.8),(-28.5,-14.4,5.9),(-27.3,-14.5,5.8),(-25.5,-14.5,6.2),(-25,-14.5,6.6),(-25.25,-14.9,6.8),(-23,-14.15,5.4),(-21.9,-13.85,5.2),(-21.6,-14.05,6.9),(-21.1,-14.65,6.8),(-22,-14.9,7),
(-29,-15.65,7),(-26.5,-15.65,6.6),(-24.9,-15.9,5),(-22.65,-16.15,4.9),(-18.1,-16,6.4),(-19.5,-16.9,5.9),(-31.75,-15.75,5.2),(-32,-15.9,4.4),(-32.65,-16.3,7.2),(-33.1,-16.55,4.6),(-32.9,-15.25,6.6),(-30.9,-14.9,7),(-31.3,-14.75,4.2),(-30.6,-14.5,6.7),(-32.3,-14.65,5.9),(-32.65,-14.5,7.2),(-34.15,-15.15,5.4),(-34.5,-14.75,6.4),(-33.4,-14.75,5.9),(-32,-13.85,3.7),(-31.75,-13.35,7),(-33.3,-14.3,6.4),(-34,-14.5,7),
(-37.3,-11.35,5.7),(-37.15,-11.8,7),(-37.3,-13.25,7.2),(-36.7,-11,5.7),(-36.4,-9.75,4),(-36.3,-10.3,4.2),(-36.15,-9,5.9),(-35.8,-13.65,5.9),(-35.8,-14.05,6.6),(-36.25,-12.5,6.4),(-36.35,-11.7,6.4),(-34.2,-9.4,0.6),(-34.25,-9.35,6),
# extra points through the body of the green cluster
(-34.6,-7.4,6.2),(-34,-7,5.9),(-33.4,-7,6.4),(-33,-8,6.5),(-32.4,-7.2,6.3),(-32.2,-8,6.1),(-31.7,-7.8,6.4),(-31.4,-6.1,6),(-30.8,-6,6.3),(-30.5,-7.2,6.2),(-33.8,-5.5,6.4),(-33,-5.5,6.5),(-32.2,-6,6.5),(-31.6,-5.6,6.3),(-30.9,-5.4,6.7),(-34.2,-8.7,6.2),(-33.8,-8.6,6.1),(-33.2,-8.7,5.9),(-32.4,-8.5,6.1),(-31.7,-8.9,6.2),(-31,-8.3,5.9),(-30.3,-8.4,6.4),(-29.8,-8.9,6.3),(-29.8,-9.5,5.8),(-28.9,-9.6,5.5),(-28.6,-9.1,5.9),(-27.9,-9.2,6.4),(-29.3,-9.4,6.1),
(-34.7,-5.1,5.9),(-33.2,-4.7,6.1),(-31.6,-4.6,5.8),(-30.8,-4.7,6.1),(-32.3,-5.4,6.3),(-33,-2.9,5.5),(-31.9,-2.9,5.3),(-30.9,-3.2,5.5),(-29.9,-3.3,5.7),(-30,-4.9,6),(-29,-4.6,5.5),
]

# left green cluster, dense core
green_core = [
(-36,-10,6.2),(-36,-10.6,6),(-36,-11.2,6.1),(-36,-11.9,6.6),(-36,-12.5,6.5),(-36,-13.1,6.7),
(-35.5,-9.4,6),(-35.5,-10,6.1),(-35.5,-10.6,6.3),(-35.5,-11.2,6.4),(-35.5,-11.8,6.2),(-35.5,-12.4,6.6),(-35.5,-13,6.8),(-35.5,-13.6,6.4),
(-35,-9.2,5.9),(-35,-9.8,6.4),(-35,-10.4,6.3),(-35,-11,6.5),(-35,-11.6,6.2),(-35,-12.2,6.7),(-35,-12.8,6.6),(-35,-13.4,6.8),(-35,-14,6.2),
(-34.5,-9.5,6.2),(-34.5,-10.1,6.1),(-34.5,-10.7,6.4),(-34.5,-11.3,6.3),(-34.5,-11.9,6.5),(-34.5,-12.5,6.8),(-34.5,-13.1,6.9),(-34.5,-13.7,7),(-34.5,-14.2,7),
(-34,-9.9,6.1),(-34,-10.5,6.4),(-34,-11.1,6.2),(-34,-11.7,6.6),(-34,-12.3,6.1),(-34,-12.9,6.6),(-34,-13.5,7),(-34,-14,6.8),
(-33.5,-9.2,5.9),(-33.5,-9.8,6.3),(-33.5,-10.4,6.1),(-33.5,-11,6.2),(-33.5,-11.6,6.4),(-33.5,-12.2,6.8),(-33.5,-12.8,6.2),(-33.5,-13.4,5.9),(-33.5,-13.9,6.9),
(-33,-9.5,6.1),(-33,-10.1,6.5),(-33,-10.7,6.3),(-33,-11.3,6.1),(-33,-11.9,6.9),(-33,-12.5,6),(-33,-13.1,5.9),(-33,-13.7,6.8),
(-32.5,-9.3,5.8),(-32.5,-9.9,6),(-32.5,-10.5,6.4),(-32.5,-11.1,6.8),(-32.5,-11.7,6.2),(-32.5,-12.3,5.8),(-32.5,-12.9,5.9),(-32.5,-13.5,6.4),
(-32,-9.6,5.7),(-32,-10.2,5.9),(-32,-10.8,6.1),(-32,-11.4,6.3),(-32,-12,6.1),(-32,-12.6,5.6),(-32,-13.2,6),
(-31.5,-9.3,5.9),(-31.5,-9.9,5.6),(-31.5,-10.5,6),(-31.5,-11.1,6.3),(-31.5,-11.7,6.9),(-31.5,-12.3,7),(-31.5,-12.9,5.9),
(-31,-9.5,5.8),(-31,-10.1,6),(-31,-10.7,6.2),(-31,-11.3,6.4),(-31,-11.9,6.6),(-31,-12.5,6),(-31,-13.2,5.9),
(-30.5,-9.8,5.9),(-30.5,-10.4,6.4),(-30.5,-11,6.1),(-30.5,-11.6,5.8),(-30.5,-12,6),(-30,-10.2,5.8),(-30,-10.8,5.6),(-30,-11.4,5.9),(-29.5,-10.9,6.4),(-29.5,-11.5,5.4),(-29.6,-11.9,5.7),
(-35.7,-10.3,6.3),(-35.3,-10.9,6.5),(-35.2,-12,6.6),(-34.8,-12.6,6.9),(-34.7,-13.4,6.8),(-34.3,-10.4,6.2),(-34.2,-11,6.4),(-33.8,-11.9,6.5),(-33.7,-13.1,6.9),(-33.3,-10.1,6.2),(-33.2,-11.2,6.3),(-33.2,-12.1,6.6),(-32.8,-12.8,6.3),(-32.7,-10.2,6.4),(-32.3,-11.4,6.6),(-32.2,-12.3,6),(-31.8,-10.1,6.2),(-31.7,-11.2,6.5),(-31.3,-12,6.8),(-30.8,-11.2,6.2),(-30.7,-10,6.1),(-30.2,-11.1,6),(-33.6,-14.4,6.8),(-33,-14.3,6.7),(-32.5,-14,6.4),(-36.6,-12.1,6.3),(-36.5,-11.2,6),(-35.9,-9.3,5.8),(-34.8,-8.9,6),(-33.8,-9,5.9),(-32.9,-9,5.8),(-31.8,-8.8,5.9),(-30.9,-9,5.8),
]

tick_x = [-40, -20, 0, 20]
tick_x_text = ["-40", "-20", "0", "20"]
tick_y = [-20, -10, 0, 10, 20, 30]
tick_y_text = ["-20", "-10", "0", "10", "20", "30"]
mog_ticks = [0, 2, 4, 6]

PURPLE = 0.2
RIDGE = 0.05
MOG_MAX = 7.67

# purely layout geometry, in pixels of the 1001x720 page
L, R, T, B = 65, 933, 14, 661
def px(x):
    return (x - L) / (R - L)
def py(y):
    return (B - y) / (B - T)

soft = upper_lobe + lobe_heart + ridge_fringe
x_all = [p[0] for p in soft] + [p[0] for p in mixed] + [p[0] for p in green_core] + [p[0] for p in ridge]
y_all = [p[1] for p in soft] + [p[1] for p in mixed] + [p[1] for p in green_core] + [p[1] for p in ridge]
m_all = [PURPLE] * len(soft) + [p[2] for p in mixed] + [p[2] for p in green_core] + [RIDGE] * len(ridge)
alpha = [0.65] * (len(soft) + len(mixed)) + [0.8] * len(green_core) + [0.92] * len(ridge)
sizes = [7.6] * (len(soft) + len(mixed) + len(green_core)) + [9] * len(ridge)

fig = go.Figure(go.Scatter(
    x=x_all, y=y_all, mode="markers", showlegend=False,
    marker=dict(
        size=sizes, color=m_all, opacity=alpha, colorscale="Viridis", cmin=0, cmax=MOG_MAX,
        line=dict(width=0),
        colorbar=dict(
            title=dict(text="Mog", side="top", font=dict(size=19, color="#111")),
            x=px(953), xanchor="left", xpad=0,
            y=py(409), yanchor="bottom", ypad=0,
            len=136, lenmode="pixels", thickness=22, thicknessmode="pixels",
            outlinewidth=0, tickvals=mog_ticks, ticks="outside", tickcolor="white",
            ticklen=2, tickwidth=1, tickfont=dict(size=15, color="#111"),
        ),
    ),
))

shapes = []
for v in mog_ticks[1:]:
    yy = py(409) + v / MOG_MAX * 109 / (B - T)
    for a, b in [(953, 958), (970, 975)]:
        shapes.append(dict(type="line", xref="paper", yref="paper", x0=px(a), x1=px(b), y0=yy, y1=yy,
                           line=dict(color="white", width=1)))
# screenshot strip along the bottom edge
shapes.append(dict(type="rect", xref="paper", yref="paper", x0=px(0), x1=px(1001), y0=py(720), y1=py(717),
                   fillcolor="#d3dbea", line=dict(width=0)))
# watermark icon
for cx, cy, rx, ry in [(836, 670, 13, 12), (850, 678, 12, 11)]:
    shapes.append(dict(type="circle", xref="paper", yref="paper", x0=px(cx - rx), x1=px(cx + rx),
                       y0=py(cy + ry), y1=py(cy - ry), fillcolor="white", line=dict(color="#b5b5b5", width=1)))
for cx, cy in [(831, 665), (841, 665), (846, 675), (854, 675)]:
    shapes.append(dict(type="circle", xref="paper", yref="paper", x0=px(cx - 1), x1=px(cx + 1),
                       y0=py(cy + 1), y1=py(cy - 1), fillcolor="#b5b5b5", line=dict(width=0)))

fig.update_layout(
    width=1001, height=720, autosize=False,
    margin=dict(l=L, r=1001 - R, t=T, b=720 - B, pad=0),
    paper_bgcolor="white", plot_bgcolor="white",
    font=dict(family="Liberation Sans, Arial, sans-serif", color="#111"),
    shapes=shapes,
    annotations=[dict(text="桓峰基因", xref="paper", yref="paper", x=px(919), y=py(676),
                      xanchor="center", yanchor="middle", showarrow=False,
                      font=dict(family="Noto Sans CJK SC", size=24, color="#a8a8a8"))],
    xaxis=dict(
        range=[-40.5, 32], tickvals=tick_x, ticktext=tick_x_text, showgrid=False, zeroline=False, automargin=False,
        showline=True, linecolor="#222", linewidth=2, ticks="outside", ticklen=4, tickwidth=1.5, tickcolor="#222",
        tickfont=dict(size=15, color="#111"),
        title=dict(text="PCA 1 (40%)", font=dict(size=19, color="#222"), standoff=11),
    ),
    yaxis=dict(
        range=[-21.5, 32.4], tickvals=tick_y, ticktext=tick_y_text, showgrid=False, zeroline=False, automargin=False,
        showline=True, linecolor="#222", linewidth=2, ticks="outside", ticklen=4, tickwidth=1.5, tickcolor="#222",
        tickfont=dict(size=15, color="#111"),
        title=dict(text="PCA 2 (9%)", font=dict(size=19, color="#222"), standoff=8),
    ),
)
fig.write_html("out.html", post_script="document.body.style.margin='0';", config={"displayModeBar": False})
